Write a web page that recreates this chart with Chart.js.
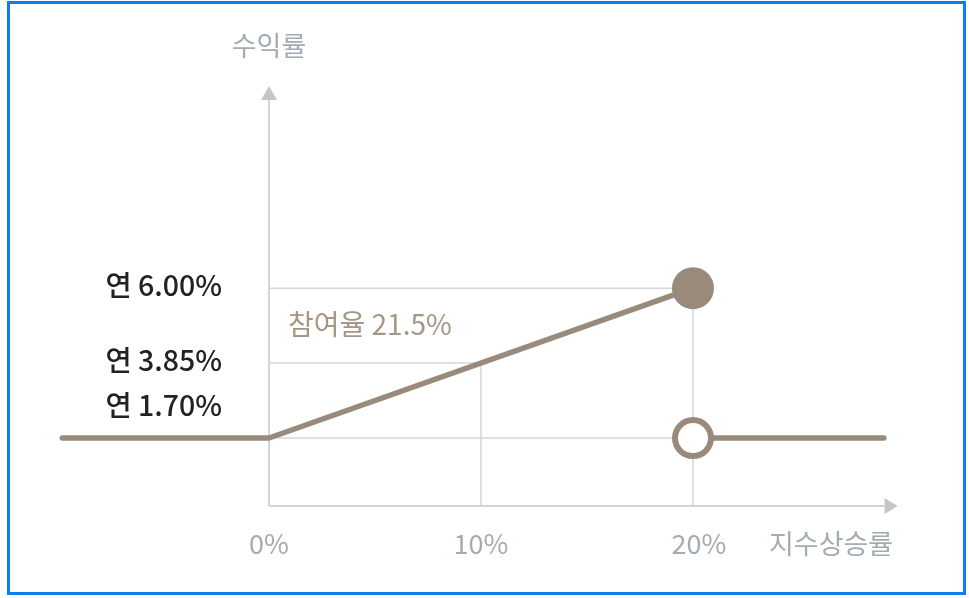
<!DOCTYPE html>
<html>
<head>
<meta charset="utf-8">
<script src="https://cdn.jsdelivr.net/npm/chart.js@4.4.1/dist/chart.umd.min.js"></script>
<style>
  html, body { margin: 0; padding: 0; background: #fff; }
  #wrap { position: relative; width: 969px; height: 598px; }
  #frame { position: absolute; left: 7px; top: 1px; width: 953px; height: 588px; border: 3px solid #0b7ef0; pointer-events: none; }
  canvas { position: absolute; left: 0; top: 0; }
</style>
</head>
<body>
<div id="wrap">
  <canvas id="c" width="969" height="598"></canvas>
  <div id="frame"></div>
</div>
<script>
// ---- data ----
const xMin = -10, xMax = 30, yMin = -0.25, yMax = 12;
const xTickValues = [0, 10, 20];
const xTickLabels = ['0%', '10%', '20%'];
const yTickValues = [6.00, 3.85, 1.70];
const yTickLabels = ['연 6.00%', '연 3.85%', '연 1.70%'];
const payoffX = [-9.75, 0, 20];
const payoffY = [1.70, 1.70, 6.00];
const afterX = [20, 29];
const afterY = [1.70, 1.70];
const capX = 20, capY = 6.00;        // filled marker
const fallX = 20, fallY = 1.70;      // open marker
const participationLabel = '참여율 21.5%';
const yAxisTitle = '수익률';
const xAxisTitle = '지수상승률';
const yArrowTip = 11.8, xArrowTip = 29.65;

const lineColor = '#9a8a7c';
const gridColor = '#d6d6d6';
const axisColor = '#c6c6c6';

const pts = (xs, ys) => xs.map((x, i) => ({ x: x, y: ys[i] }));

const guides = [
  pts([0, capX], [capY, capY]),
  pts([0, 10], [3.85, 3.85]),
  pts([0, fallX], [fallY, fallY]),
  pts([10, 10], [3.85, yMin]),
  pts([20, 20], [capY, yMin])
];

const datasets = [];
guides.forEach(g => datasets.push({
  data: g, borderColor: gridColor, borderWidth: 1.5, pointRadius: 0, showLine: true, order: 10
}));
datasets.push({
  data: pts(payoffX, payoffY), borderColor: lineColor, borderWidth: 5.5,
  borderCapStyle: 'round', borderJoinStyle: 'round', pointRadius: 0, showLine: true, order: 5
});
datasets.push({
  data: pts(afterX, afterY), borderColor: lineColor, borderWidth: 5.5,
  borderCapStyle: 'round', pointRadius: 0, showLine: true, order: 5
});
datasets.push({
  data: [{ x: capX, y: capY }], showLine: false, pointRadius: 21, pointBorderWidth: 0,
  pointBackgroundColor: lineColor, pointBorderColor: lineColor, order: 1
});
datasets.push({
  data: [{ x: fallX, y: fallY }], showLine: false, pointRadius: 18, pointBorderWidth: 6,
  pointBackgroundColor: '#ffffff', pointBorderColor: lineColor, order: 1
});

const FONT = '"Noto Sans CJK KR", "Noto Sans", sans-serif';

const decor = {
  id: 'decor',
  beforeDatasetsDraw(chart) {
    const ctx = chart.ctx, xs = chart.scales.x, ys = chart.scales.y;
    const x0 = xs.getPixelForValue(0), yb = ys.getPixelForValue(yMin);
    const yt = ys.getPixelForValue(yArrowTip), xt = xs.getPixelForValue(xArrowTip);
    ctx.save();
    ctx.strokeStyle = axisColor; ctx.fillStyle = axisColor; ctx.lineWidth = 1.5;
    // y axis
    ctx.beginPath(); ctx.moveTo(x0, yb); ctx.lineTo(x0, yt + 14); ctx.stroke();
    ctx.beginPath(); ctx.moveTo(x0, yt); ctx.lineTo(x0 - 8, yt + 14); ctx.lineTo(x0 + 8, yt + 14); ctx.closePath(); ctx.fill();
    // x axis
    ctx.beginPath(); ctx.moveTo(x0, yb); ctx.lineTo(xt - 13, yb); ctx.stroke();
    ctx.beginPath(); ctx.moveTo(xt, yb); ctx.lineTo(xt - 13, yb - 8); ctx.lineTo(xt - 13, yb + 8); ctx.closePath(); ctx.fill();
    ctx.restore();
  },
  afterDatasetsDraw(chart) {
    const ctx = chart.ctx, xs = chart.scales.x, ys = chart.scales.y;
    ctx.save();
    ctx.textBaseline = 'middle';
    // y value labels
    ctx.font = '500 28.5px ' + FONT;
    ctx.fillStyle = '#222222';
    ctx.textAlign = 'right';
    yTickValues.forEach((v, i) => {
      let py = ys.getPixelForValue(v) - 3;
      if (i === 2) py = ys.getPixelForValue(v) - 33;
      ctx.fillText(yTickLabels[i], 222, py);
    });
    // participation label
    ctx.font = '28px ' + FONT;
    ctx.fillStyle = '#a59686';
    ctx.textAlign = 'left';
    ctx.fillText(participationLabel, xs.getPixelForValue(0) + 19, ys.getPixelForValue(4.95));
    // axis titles & x ticks
    ctx.font = '27px ' + FONT;
    ctx.fillStyle = '#a3abb3';
    ctx.textAlign = 'center';
    ctx.fillText(yAxisTitle, xs.getPixelForValue(0), 46);
    const yl = ys.getPixelForValue(yMin) + 38;
    xTickValues.forEach((v, i) => {
      ctx.fillText(xTickLabels[i], xs.getPixelForValue(v) + (i === 2 ? 6 : 0), yl);
    });
    ctx.textAlign = 'left';
    ctx.fillText(xAxisTitle, 769, yl);
    ctx.restore();
  }
};

new Chart(document.getElementById('c'), {
  type: 'scatter',
  data: { datasets: datasets },
  options: {
    responsive: false,
    animation: false,
    devicePixelRatio: 1,
    layout: { padding: { left: 57, right: 64, top: 79, bottom: 92 } },
    plugins: { legend: { display: false }, tooltip: { enabled: false } },
    scales: {
      x: { type: 'linear', min: xMin, max: xMax, display: false },
      y: { type: 'linear', min: yMin, max: yMax, display: false }
    },
    clip: false
  },
  plugins: [decor]
});
</script>
</body>
</html>
